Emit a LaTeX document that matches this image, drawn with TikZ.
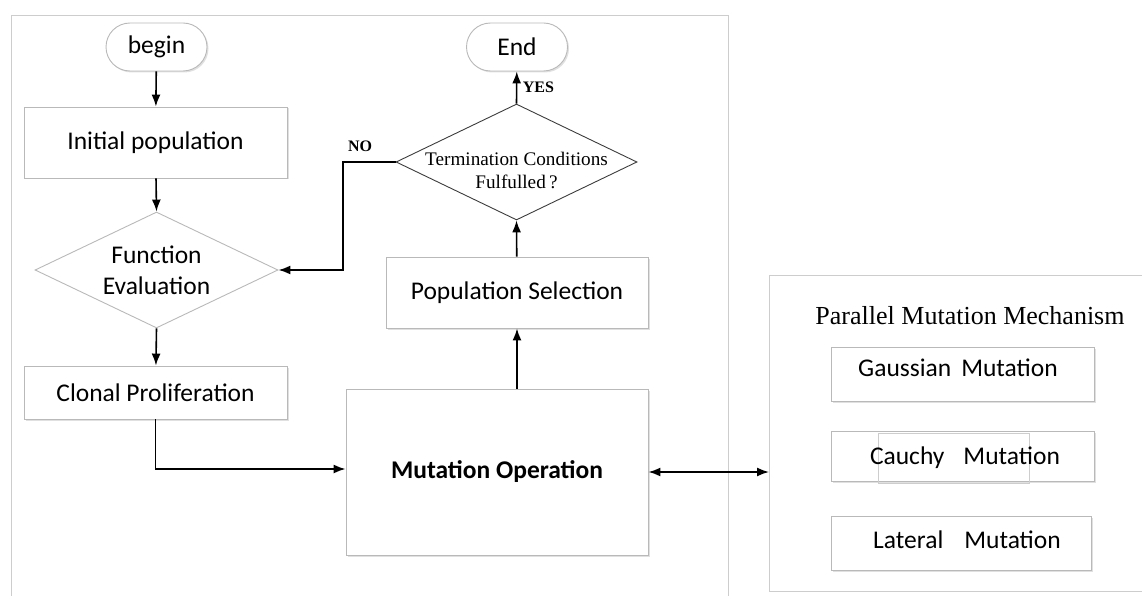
\documentclass[tikz,border=0pt]{standalone}
\usepackage{fontspec}
\setmainfont{Carlito}
\newfontfamily\timesfont{Liberation Serif}
\usepackage{xcolor}
\usepackage{tikz}
\usetikzlibrary{shapes.geometric}
\usetikzlibrary{arrows.meta}
\usetikzlibrary{shadows}
\usetikzlibrary{calc}

\definecolor{boxgray}{RGB}{185,185,185}
\definecolor{framegray}{RGB}{205,205,205}
\definecolor{darkline}{RGB}{60,60,60}

\tikzset{
	box/.style={draw=boxgray,line width=.9pt,fill=white,inner sep=0pt,
		drop shadow={shadow xshift=1.5pt,shadow yshift=-1.5pt,fill=black,opacity=.12}},
	terminal/.style={box,rounded corners=24pt,minimum width=101pt,minimum height=48pt},
	decision/.style={diamond,line width=.9pt,fill=white,inner sep=0pt},
	flow/.style={-{Latex[length=12pt,width=9pt]},line width=1.6pt},
	yesno/.style={font=\timesfont\bfseries\fontsize{16}{18}\selectfont}
}

\begin{document}
\begin{tikzpicture}[x=1pt,y=-1pt,every node/.style={font=\fontsize{25.5}{31}\selectfont}]

	\useasboundingbox (0,0) rectangle (1142,596);

	% outer frames
	\draw [framegray,line width=.9pt] (11,605) -- (11,15) -- (728,15) -- (728,605);

	\draw [framegray,line width=.9pt] (1150,275) -- (769,275) -- (769,591) -- (1150,591);

	\coordinate (pmmwest) at (769,433);

	\node [font=\timesfont\fontsize{26}{30}\selectfont] (pmmtitle) at (970,316) {Parallel Mutation Mechanism};

	% left flow
	\node [terminal] (begin) at (156.5,47) {begin};

	\node [box,minimum width=263pt,minimum height=71pt] (initpop) at (155.5,142.5) {Initial population};

	\node [decision,draw=boxgray,minimum width=243pt,minimum height=116pt] (feval) at (156.5,270) {};

	\node [align=center] (fevaltext) at (156.5,270) {Function\\Evaluation};

	\node [box,minimum width=263pt,minimum height=53pt] (clonal) at (155.5,392.5) {Clonal Proliferation};

	\node [box,drop shadow={opacity=0},minimum width=302pt,minimum height=166pt] (mutop) at (497,472) {\bfseries Mutation Operation};

	% right flow
	\node [box,minimum width=262pt,minimum height=71pt] (popsel) at (517,292.5) {Population Selection};

	\node [decision,draw=darkline,minimum width=241pt,minimum height=116pt] (term) at (516.5,162) {};

	\node [align=center,font=\timesfont\fontsize{19.2}{23}\selectfont] (termtext) at (516.5,170) {Termination Conditions\\Fulfulled\,?};

	\node [terminal] (end) at (517,47) {End};

	% mutation kinds
	\node [box,minimum width=263pt,minimum height=54pt] (gauss) at (962.5,374) {};

	\node [box,minimum width=263pt,minimum height=50pt] (cauchy) at (962.5,456) {};

	\draw [framegray,line width=.7pt] (878,433) rectangle (1029,483);

	\node [box,minimum width=260pt,minimum height=54pt] (lateral) at (961,543) {};

	\node (gausstext) at (958,368) {Gaussian\hspace{10pt}Mutation};

	\node (cauchytext) at (965,458) {Cauchy\hspace{19pt}Mutation};

	\node (lateraltext) at (967,540) {Lateral\hspace{21pt}Mutation};

	% connectors
	\draw [flow] (begin) -- (initpop);

	\draw [flow] (initpop) -- (feval.north);

	\draw [flow] (feval.south) -- (clonal);

	\draw [flow] (clonal.south) |- ($(mutop.west)+(0,-3)$);

	\draw [flow] (mutop.north -| popsel.south) -- (popsel.south);

	\draw [flow] (popsel) -- (term.south);

	\draw [flow] (term.north) -- (end) node [yesno,midway,right,xshift=2pt] {YES};

	\coordinate (nobend) at (343,216);

	\draw [flow] (term.west) -| (nobend) |- (feval.east);

	\node [yesno] (no) at (360,146) {NO};

	\draw [{Latex[length=12pt,width=9pt]}-{Latex[length=12pt,width=9pt]},line width=1.6pt] (mutop.east) -- (mutop.east -| pmmwest);

\end{tikzpicture}
\end{document}
